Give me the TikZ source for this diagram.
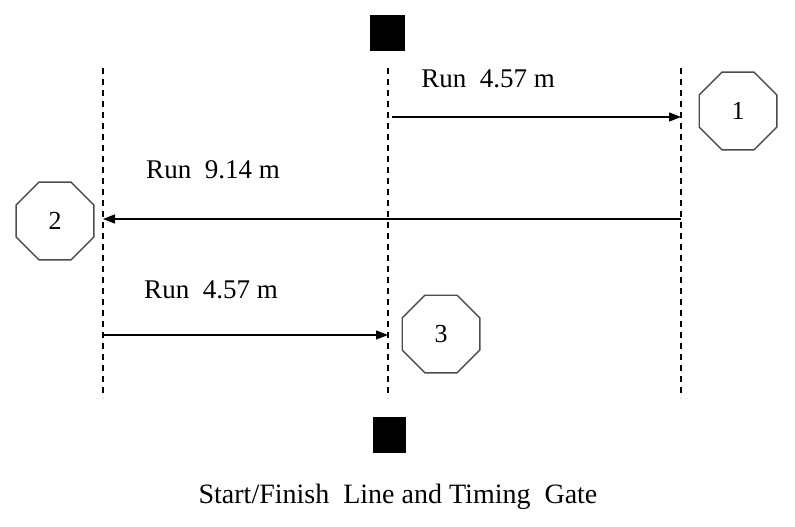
\documentclass[tikz,border=0pt]{standalone}
\usepackage{fontspec}
\setmainfont{Liberation Serif}
\usetikzlibrary{positioning, arrows.meta, shapes.geometric}
\tikzset{
  >={Triangle[length=12pt, width=9pt]},
  sh lane/.style={draw=black, line width=1.3pt, dash pattern=on 6pt off 5pt},
  sh run/.style={draw=black, ->, line width=1.3pt},
  sh cone/.style={draw=black!70, regular polygon, regular polygon sides=8,
    minimum size=84pt, inner sep=0pt, line width=1.4pt,
    font=\fontsize{26}{28}\selectfont},
  sh gate/.style={fill=black, minimum width=35pt, minimum height=36pt, inner sep=0pt},
  sh lbl/.style={font=\fontsize{27}{30}\selectfont, inner sep=0pt, anchor=base},
}

\begin{document}
\begin{tikzpicture}[x=1pt, y=-1pt]
 \useasboundingbox (0,0) rectangle (795,527);
 % lanes
 \coordinate (laneL top) at (103,68);  \coordinate (laneL bot) at (103,398);
 \coordinate (laneM top) at (388,68);  \coordinate (laneM bot) at (388,398);
 \coordinate (laneR top) at (681,68);  \coordinate (laneR bot) at (681,398);
 \draw[sh lane] (laneL top) -- (laneL bot);
 \draw[sh lane] (laneM top) -- (laneM bot);
 \draw[sh lane] (laneR top) -- (laneR bot);
 % timing gate
 \node[sh gate] (gate top) at (387,33) {};
 \node[sh gate, minimum width=33pt] (gate bot) at (389.5,435) {};
 % cones
 \node[sh cone] (cone1) at (738,111) {1};
 \node[sh cone] (cone2) at (55,221) {2};
 \node[sh cone] (cone3) at (441,334) {3};
 % runs
 \coordinate (run1 a) at (392,117);  \coordinate (run1 b) at (681,117);
 \coordinate (run2 a) at (681,219);  \coordinate (run2 b) at (103,219);
 \coordinate (run3 a) at (103,335);  \coordinate (run3 b) at (388,335);
 \draw[sh run] (run1 a) -- (run1 b);
 \draw[sh run] (run2 a) -- (run2 b);
 \draw[sh run] (run3 a) -- (run3 b);
 \node[sh lbl] (lbl1) at (488,87) {Run\ \ 4.57 m};
 \node[sh lbl] (lbl2) at (213,178) {Run\ \ 9.14 m};
 \node[sh lbl] (lbl3) at (211,298) {Run\ \ 4.57 m};
 \node[sh lbl, font=\fontsize{28}{30}\selectfont] (caption) at (398,503)
   {Start/Finish\ \ Line and Timing\ \ Gate};
\end{tikzpicture}
\end{document}
